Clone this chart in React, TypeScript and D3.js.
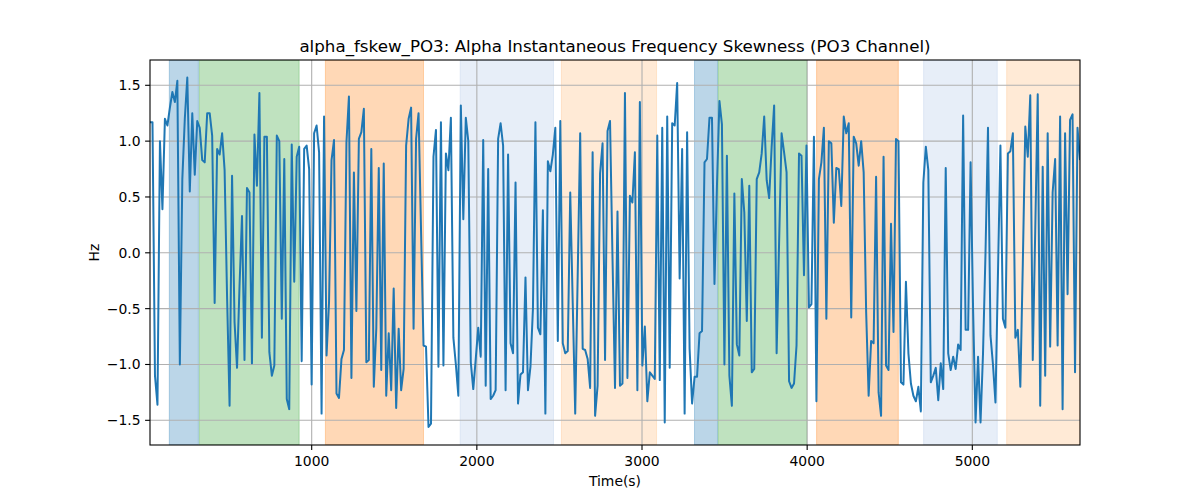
import * as d3 from 'd3'

const width = 1200
const height = 500
const marginTop = 60
const marginRight = 120
const marginBottom = 55
const marginLeft = 150

const title = 'alpha_fskew_PO3: Alpha Instantaneous Frequency Skewness (PO3 Channel)'

// sampling grid of the series (seconds)
const timeStart = 21
const timeEnd = 5652

// skewness values (Hz), read left to right in chunks
const skewPart1 = [1.17, 1.17, -1.10, -1.36, 1.00, 0.39, 1.20, 1.14, 1.30, 1.44, 1.35, 1.54, -1.00, 0.66, 1.20, 1.57, 0.55, 1.25, 0.70, 1.18, 1.12, 0.83, 0.81, 1.25, 1.25, 1.05, -0.45, 0.93, 0.88, 1.07, 0.74, -0.40, -1.37, 0.69, -0.62, -1.03, -0.30, 0.33, -0.96, 0.58, 0.54, -0.99, 1.06]
const skewPart2 = [0.60, 1.43, -0.76, 1.04, 1.04, -0.89, -1.10, -1.01, 1.05, 1.00, -0.59, 0.84, -1.31, -1.40, 0.97, -0.26, 0.86, 0.95, -0.97, 0.93, 0.96, 0.75, -1.18, 1.07, 1.14, 0.90, -1.44, 1.22, -0.92, -0.44, 0.83, 1.01, -1.26, -1.30, -0.95, -0.87, 0.99, 1.40, -1.12, 0.72, -0.52, 1.02, 1.08]
const skewPart3 = [1.29, -0.98, -0.96, 0.93, -1.20, -0.68, 0.76, -1.05, 0.80, -1.28, -0.72, -1.23, -0.32, -1.39, -0.68, -1.23, -1.04, 0.96, 1.20, 1.30, -0.68, 1.02, 1.25, 0.20, -0.83, -0.84, -1.56, -1.53, 0.86, 1.10, -1.02, 1.17, -1.01, 0.89, 0.74, 1.21, -0.76, -1.00, -1.28, 1.32, 0.30, 1.21]
const skewPart4 = [1.00, -0.98, -1.22, -0.95, -0.67, -0.93, 1.01, -1.19, 0.75, -1.31, -1.28, -1.23, 1.02, 1.16, 0.96, -1.23, 0.88, -0.81, -0.90, 0.63, -1.35, -1.09, -1.07, -0.22, -1.23, -1.02, -0.50, 1.17, -0.67, -0.73, 0.38, -1.44, 0.82, 0.73, 0.88, 1.12, -0.79, 1.18, -0.81, -0.90]
const skewPart5 = [-0.88, 0.54, -0.45, -1.44, -0.20, 1.07, -0.86, -0.87, -0.95, -1.21, 0.90, -1.46, -1.19, 0.71, 0.98, -0.96, 1.09, 1.18, -0.05, -1.21, 0.37, -1.19, -1.17, 1.43, -1.12, 0.51, 0.45, 0.90, -1.23, 1.35, -1.01, -0.66, -1.33, -1.07, -1.10, -1.13, 1.05, -1.14, 1.12, -1.52, 1.22, -1.03]
const skewPart6 = [1.16, 1.14, 1.52, -0.23, 0.93, -1.44, 1.08, -0.86, -1.35, -1.11, -1.11, -0.72, -0.70, 0.81, 0.84, 1.21, 1.21, -0.28, 0.60, 1.36, 1.15, -1.00, 0.87, -1.10, -1.37, 0.53, -0.82, -0.92, 0.66, 0.36, -0.61, 0.60, -1.07, -1.04, 0.66, 0.72, 0.89, 1.22, 0.65, 0.49, 0.95, 1.32]
const skewPart7 = [-0.90, 0.10, 1.07, 0.90, 0.72, -1.15, -1.21, -1.17, -0.83, 0.89, 0.87, -0.20, 0.96, -0.49, -0.46, 1.04, -1.33, 0.66, 0.81, 1.12, -0.59, 1.00, 0.98, 0.27, 0.76, 0.75, 0.42, 1.22, 1.07, 1.16, -0.58, 1.04, 0.98, 0.78, 1.00, 0.72, -0.53, -1.28, -0.79, -0.81]
const skewPart8 = [0.68, -1.25, -1.46, 0.86, -1.01, -1.05, 0.26, -0.71, 1.02, 1.00, -1.16, -1.18, -0.26, -0.90, -1.17, -1.28, -1.33, -1.20, -1.42, 0.63, 0.95, 0.74, -1.16, -1.10, -1.03, -1.32, -0.99, -1.22, 0.76, -0.90, -1.05, -0.93, -1.04, -0.82, -0.87, 1.23, -0.69, -0.69, 0.81, -0.50, -1.52]
const skewPart9 = [-0.93, -1.52, -0.90, 0.00, 1.12, -0.74, -1.00, -1.34, -0.20, 0.96, -0.59, -0.67, 0.89, 0.91, 1.07, -0.76, -0.69, -1.20, -0.10, 1.13, 0.86, 1.41, -0.96, 0.20, 1.42, -1.37, 0.77, -1.10, 1.07, -0.84, 0.54, 0.84, -0.83, 1.22, -1.40, 1.07, -0.37, 1.19, 1.24, -1.07, 1.12, 0.83]

const skewValues = [
    ...skewPart1, ...skewPart2, ...skewPart3, ...skewPart4, ...skewPart5,
    ...skewPart6, ...skewPart7, ...skewPart8, ...skewPart9,
]

// shaded periods
const spanStarts = [138, 320, 1083, 1899, 2512, 3318, 3462, 4057, 4705, 5208]
const spanEnds = [314, 924, 1677, 2464, 3088, 3457, 3998, 4552, 5151, 5652]
const spanColors = ['#1f77b4', '#2ca02c', '#ff7f0e', '#aec7e8', '#ffbb78', '#1f77b4', '#2ca02c', '#ff7f0e', '#aec7e8', '#ffbb78']

const xTicks = [1000, 2000, 3000, 4000, 5000]
const yTicks = [-1.5, -1.0, -0.5, 0.0, 0.5, 1.0, 1.5]
const yMin = -1.721
const yMax = 1.7265

const font = '"DejaVu Sans", sans-serif'

export default function App() {
    const innerW = width - marginLeft - marginRight
    const innerH = height - marginTop - marginBottom
    const x0 = marginLeft
    const x1 = width - marginRight
    const y0 = marginTop
    const y1 = height - marginBottom

    const step = (timeEnd - timeStart) / (skewValues.length - 1)
    const points = skewValues.map((v, i) => ({ t: timeStart + i * step, v }))

    const x = d3.scaleLinear().domain([timeStart, timeEnd]).range([x0, x1])
    const y = d3.scaleLinear().domain([yMin, yMax]).range([y1, y0])

    const line = d3
        .line<{ t: number; v: number }>()
        .x((d) => x(d.t))
        .y((d) => y(d.v))

    const fmtY = d3.format('.1f')

    return (
        <svg
            width={width}
            height={height}
            style={{ position: 'absolute', left: 0, top: 0, background: 'white' }}
            fontFamily={font}
        >
            <defs>
                <clipPath id="plot-clip">
                    <rect x={x0} y={y0} width={innerW} height={innerH} />
                </clipPath>
            </defs>

            <g clipPath="url(#plot-clip)">
                {spanStarts.map((s, i) => (
                    <rect
                        key={i}
                        x={x(s)}
                        y={y0}
                        width={x(spanEnds[i]) - x(s)}
                        height={innerH}
                        fill={spanColors[i]}
                        fillOpacity={0.3}
                        stroke={spanColors[i]}
                        strokeOpacity={0.3}
                        strokeWidth={1}
                    />
                ))}
            </g>

            {/* grid */}
            <g stroke="#b0b0b0" strokeWidth={1.1}>
                {xTicks.map((t) => (
                    <line key={t} x1={x(t)} x2={x(t)} y1={y0} y2={y1} />
                ))}
                {yTicks.map((t) => (
                    <line key={t} x1={x0} x2={x1} y1={y(t)} y2={y(t)} />
                ))}
            </g>

            <path
                d={line(points) ?? undefined}
                fill="none"
                stroke="#1f77b4"
                strokeWidth={2}
                strokeLinejoin="round"
                clipPath="url(#plot-clip)"
            />

            {/* axes frame */}
            <rect x={x0} y={y0} width={innerW} height={innerH} fill="none" stroke="#000" strokeWidth={1.1} />

            {/* x ticks */}
            <g fontSize={13.9} fill="#000">
                {xTicks.map((t) => (
                    <g key={t}>
                        <line x1={x(t)} x2={x(t)} y1={y1} y2={y1 + 4.9} stroke="#000" strokeWidth={1.1} />
                        <text x={x(t)} y={y1 + 20.5} textAnchor="middle">
                            {t}
                        </text>
                    </g>
                ))}
                {yTicks.map((t) => (
                    <g key={t}>
                        <line x1={x0 - 4.9} x2={x0} y1={y(t)} y2={y(t)} stroke="#000" strokeWidth={1.1} />
                        <text x={x0 - 9.5} y={y(t)} dy="0.35em" textAnchor="end">
                            {fmtY(t)}
                        </text>
                    </g>
                ))}
            </g>

            <text x={x0 + innerW / 2} y={486} textAnchor="middle" fontSize={13.9}>
                Time(s)
            </text>
            <text
                transform={`translate(99,${y0 + innerH / 2}) rotate(-90)`}
                textAnchor="middle"
                fontSize={13.9}
            >
                Hz
            </text>
            <text x={x0 + innerW / 2} y={52} textAnchor="middle" fontSize={16.7}>
                {title}
            </text>
        </svg>
    )
}
